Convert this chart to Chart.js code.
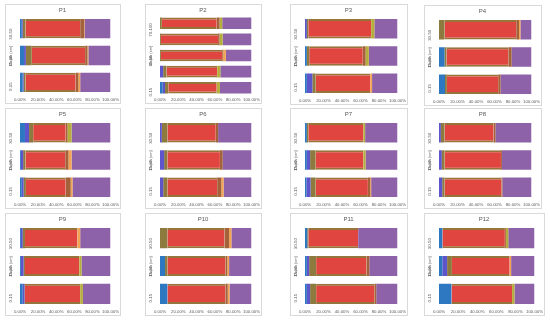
<!DOCTYPE html>
<html>
<head>
<meta charset="utf-8">
<script src="https://cdn.jsdelivr.net/npm/chart.js@4/dist/chart.umd.min.js"></script>
<style>
  html, body { margin: 0; padding: 0; background: #fff; }
  body { width: 550px; height: 320px; position: relative; overflow: hidden; font-family: "Liberation Sans", Arial, sans-serif; }
  .panel { position: absolute; border: 1px solid #d9d9d9; background: #fff; box-sizing: border-box; }
  .panel canvas { display: block; }
</style>
</head>
<body>
<script>
// ---- data ----
const panelTitles = ['P1','P2','P3','P4','P5','P6','P7','P8','P9','P10','P11','P12'];
const depths3 = ['30-50', '15-30', '0-15'];              // top to bottom
const depths5 = ['70-100', '50-70', '30-50', '15-30', '0-15'];
const seriesNames = ['S1', 'S2', 'S3', 'S4', 'S5', 'S6', 'S7', 'S8'];
const seriesColors = ['#2e78c2', '#5d55c9', '#8c7a3e', '#e0463f', '#a3623a', '#f2a455', '#b5ae3e', '#8d62a9'];
const xTicks = [0, 20, 40, 60, 80, 100];

// each row = one depth bar (same order as its depth list), values per series (%)
const p1  = [[2, 1, 3, 60.5, 4.5, 0.5, 0, 28.5], [4.5, 2, 6.5, 59, 2.5, 1, 0, 24.5], [3, 1, 2, 55.5, 3, 2, 0, 33.5]];
const p2  = [[0, 0, 2, 60, 3, 0, 3, 32], [0, 0, 1, 62.5, 1.5, 0, 3.5, 31.5], [0, 0, 1, 67, 1, 3, 0, 28], [0, 3.5, 3.5, 55.5, 0, 0, 3.5, 34], [3, 2.5, 3.5, 53, 0, 0, 3.5, 34.5]];
const p3  = [[0, 2, 1.5, 68, 0, 0, 3.5, 25], [2, 0, 2.5, 58, 3, 0, 3.5, 31], [2, 6, 3.5, 59, 0, 2, 0, 27.5]];
const p4  = [[0, 0, 6, 77.5, 3, 1.5, 0, 12], [6, 0, 2, 67, 3.5, 0, 0, 21.5], [6.5, 0, 2, 55.5, 2.5, 0, 0, 33.5]];
const p5  = [[5.5, 4.5, 4.5, 36, 2, 0, 4.5, 43], [1, 2.5, 2.5, 44, 3.5, 3.5, 0, 43], [2, 2, 2.5, 44, 5.5, 2, 0, 42]];
const p6  = [[0, 2, 6, 53, 2.5, 0, 0, 36.5], [0, 4.5, 3.5, 57.5, 3, 0, 0, 31.5], [0, 3.5, 4.5, 54.5, 4.5, 2.5, 0, 30.5]];
const p7  = [[2, 0, 1.5, 59.5, 0, 0, 2, 35], [2, 3.5, 6, 51.5, 0, 0, 2.5, 34.5], [1.5, 4.5, 5.5, 56.5, 2.5, 1, 0, 28.5]];
const p8  = [[0, 2, 4, 53, 2, 0, 0, 39], [0, 3, 3, 61, 1, 0, 0, 32], [0, 3.5, 2.5, 61.5, 1, 0, 0, 31.5]];
const p9  = [[1, 2, 2.5, 58, 0, 3, 0, 33.5], [1, 3, 1.5, 60, 0, 0, 2.5, 32], [3, 2, 0.5, 61, 0, 0, 3, 30.5]];
const p10 = [[0, 0, 8, 62.5, 5, 2.5, 0, 22], [5.5, 0, 2.5, 63.5, 2, 2, 0, 24.5], [8, 0, 0, 63.5, 2.5, 2, 0, 24]];
const p11 = [[2.5, 0, 1, 54, 0, 0, 0, 42.5], [2, 2.5, 7.5, 54.5, 3, 0, 0, 30.5], [2, 3.5, 6.5, 63, 2, 0, 0, 23]];
const p12 = [[3.5, 0, 0, 65.5, 1, 0, 2.5, 27.5], [3.5, 5, 5, 60.5, 0, 1.5, 0, 24.5], [13, 0, 0, 63.5, 0, 0, 2.5, 21]];
const panelData = [p1, p2, p3, p4, p5, p6, p7, p8, p9, p10, p11, p12];

// ---- layout (panel boxes) ----
const boxes = [
  [5, 4, 116, 100], [145, 4, 117, 100], [290, 4, 118, 101], [424, 5, 118, 101],
  [5, 108, 116, 101], [145, 108, 117, 101], [290, 108, 118, 101], [424, 108, 118, 101],
  [5, 213, 116, 103], [145, 213, 117, 103], [290, 213, 118, 103], [424, 213, 121, 103]
];

const TEXT = '#595959';

panelTitles.forEach((title, i) => {
  const [l, t, w, h] = boxes[i];
  const div = document.createElement('div');
  div.className = 'panel';
  div.style.left = l + 'px'; div.style.top = t + 'px';
  div.style.width = w + 'px'; div.style.height = h + 'px';
  const cv = document.createElement('canvas');
  div.appendChild(cv);
  document.body.appendChild(div);

  const rows = panelData[i];
  const labels = rows.length === 5 ? depths5 : depths3;
  const datasets = seriesNames.map((name, s) => ({
    label: name,
    data: rows.map(r => r[s]),
    backgroundColor: seriesColors[s],
    borderColor: s === 3 ? '#97743c' : seriesColors[s],
    borderWidth: s === 3 ? { top: 2, bottom: 2, left: 0, right: 0 } : 0,
    borderSkipped: false,
    categoryPercentage: 0.72,
    barPercentage: 1.0
  }));

  new Chart(cv, {
    type: 'bar',
    data: { labels, datasets },
    options: {
      indexAxis: 'y',
      responsive: true,
      maintainAspectRatio: false,
      animation: false,
      events: [],
      layout: { padding: { left: 2, right: 3, top: 0, bottom: 0 } },
      plugins: {
        legend: { display: false },
        tooltip: { enabled: false },
        title: { display: true, text: title, color: TEXT, font: { size: 6, family: 'Liberation Sans', weight: 'normal' }, padding: { top: 2, bottom: 1 } }
      },
      scales: {
        x: {
          stacked: true, min: 0, max: 100,
          afterBuildTicks: ax => { ax.ticks = xTicks.map(v => ({ value: v })); },
          ticks: { color: TEXT, font: { size: 4.3, family: 'Liberation Sans' }, padding: 1, autoSkip: false, maxRotation: 0, minRotation: 0,
                   callback: v => Number(v).toFixed(2) + '%' },
          grid: { display: false, drawTicks: false },
          border: { display: false }
        },
        y: {
          stacked: true,
          afterFit: ax => { ax.width = 12; },
          ticks: { color: TEXT, font: { size: 4.3, family: 'Liberation Sans' }, padding: 1, minRotation: 90, maxRotation: 90 },
          grid: { display: false },
          border: { display: false },
          title: { display: true, text: 'Depth (cm)', color: TEXT, font: { size: 4, family: 'Liberation Sans' }, padding: 0 }
        }
      }
    }
  });
});
</script>
</body>
</html>
